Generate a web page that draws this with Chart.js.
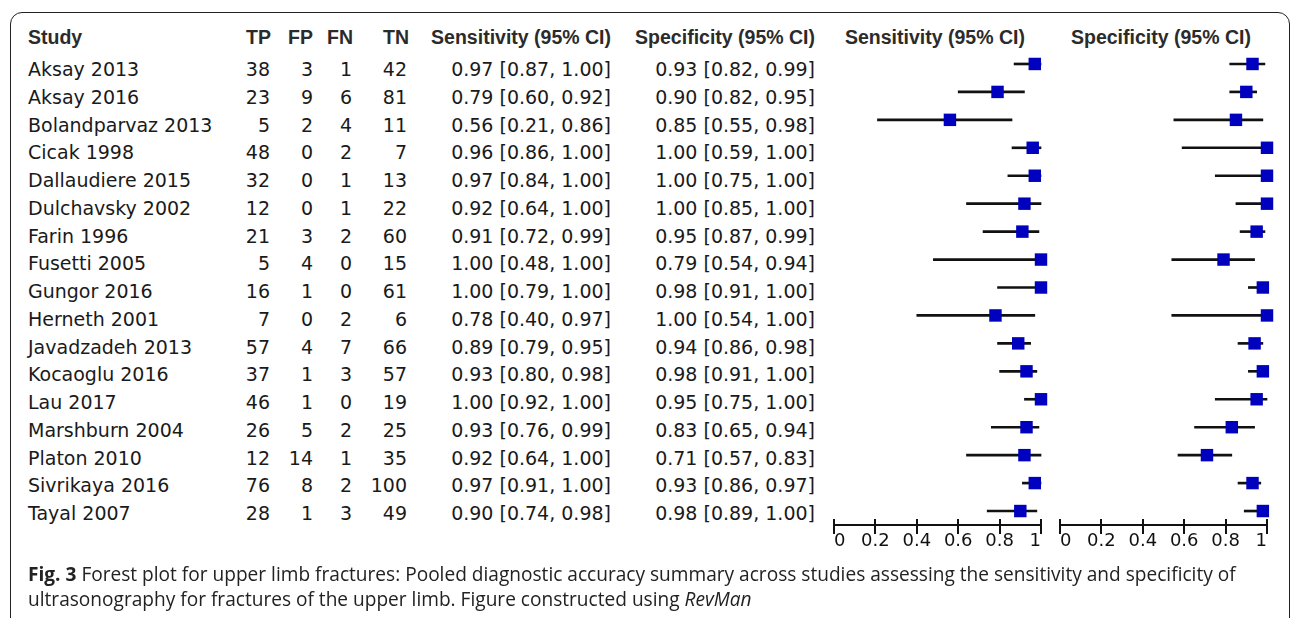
<!DOCTYPE html>
<html lang="en">
<head>
    <meta charset="UTF-8">
    <title>Forest plot - upper limb fractures</title>
    <script src="https://cdn.jsdelivr.net/npm/chart.js"></script>
    <style>
        body { margin: 0; background: #fff; width: 1292px; height: 618px; overflow: hidden; position: relative; }
        .frame { position: absolute; left: 10px; top: 12px; width: 1278px; height: 700px; border: 1.5px solid #222; border-radius: 12px; }
        .hdr { position: absolute; line-height: 26px; font: bold 19.5px "Liberation Sans", Arial, sans-serif; color: #2b2b2b; white-space: nowrap; }
        .cell { position: absolute; font: 19px "DejaVu Sans", sans-serif; color: #1a1a1a; white-space: nowrap; }
        .caption { position: absolute; left: 28px; top: 562px; font: 19.1px "Open Sans", sans-serif; line-height: 25px; color: #222; white-space: nowrap; }
        canvas { position: absolute; }
        #sensChart { left: 820px; top: 41px; }
        #specChart { left: 1046px; top: 41px; }
    </style>
</head>
<body>
    <div class="frame"></div>
    <div id="table"></div>
    <canvas id="sensChart" width="240" height="530"></canvas>
    <canvas id="specChart" width="240" height="530"></canvas>
    <div class="caption"><b>Fig. 3</b> Forest plot for upper limb fractures: Pooled diagnostic accuracy summary across studies assessing the sensitivity and specificity of<br>ultrasonography for fractures of the upper limb. Figure constructed using <i>RevMan</i></div>

    <script>
        // study data
        const studies = ['Aksay 2013', 'Aksay 2016', 'Bolandparvaz 2013', 'Cicak 1998', 'Dallaudiere 2015',
            'Dulchavsky 2002', 'Farin 1996', 'Fusetti 2005', 'Gungor 2016', 'Herneth 2001', 'Javadzadeh 2013',
            'Kocaoglu 2016', 'Lau 2017', 'Marshburn 2004', 'Platon 2010', 'Sivrikaya 2016', 'Tayal 2007'];
        const tp = [38, 23, 5, 48, 32, 12, 21, 5, 16, 7, 57, 37, 46, 26, 12, 76, 28];
        const fp = [3, 9, 2, 0, 0, 0, 3, 4, 1, 0, 4, 1, 1, 5, 14, 8, 1];
        const fn = [1, 6, 4, 2, 1, 1, 2, 0, 0, 2, 7, 3, 0, 2, 1, 2, 3];
        const tn = [42, 81, 11, 7, 13, 22, 60, 15, 61, 6, 66, 57, 19, 25, 35, 100, 49];
        const sens   = [0.97, 0.79, 0.56, 0.96, 0.97, 0.92, 0.91, 1.00, 1.00, 0.78, 0.89, 0.93, 1.00, 0.93, 0.92, 0.97, 0.90];
        const sensLo = [0.87, 0.60, 0.21, 0.86, 0.84, 0.64, 0.72, 0.48, 0.79, 0.40, 0.79, 0.80, 0.92, 0.76, 0.64, 0.91, 0.74];
        const sensHi = [1.00, 0.92, 0.86, 1.00, 1.00, 1.00, 0.99, 1.00, 1.00, 0.97, 0.95, 0.98, 1.00, 0.99, 1.00, 1.00, 0.98];
        const spec   = [0.93, 0.90, 0.85, 1.00, 1.00, 1.00, 0.95, 0.79, 0.98, 1.00, 0.94, 0.98, 0.95, 0.83, 0.71, 0.93, 0.98];
        const specLo = [0.82, 0.82, 0.55, 0.59, 0.75, 0.85, 0.87, 0.54, 0.91, 0.54, 0.86, 0.91, 0.75, 0.65, 0.57, 0.86, 0.89];
        const specHi = [0.99, 0.95, 0.98, 1.00, 1.00, 1.00, 0.99, 0.94, 1.00, 1.00, 0.98, 1.00, 1.00, 0.94, 0.83, 0.97, 1.00];
        const tickLabels = ['0', '0.2', '0.4', '0.6', '0.8', '1'];

        // --- table on the left (plain html) ---
        const textTop = 56, textStep = 27.75, hdrTop = 26;
        const table = document.getElementById('table');
        function addText(cls, text, y, left, right) {
            const d = document.createElement('div');
            d.className = cls;
            d.textContent = text;
            d.style.top = y + 'px';
            if (left != null) d.style.left = left + 'px';
            if (right != null) { d.style.right = (1292 - right) + 'px'; d.style.textAlign = 'right'; }
            table.appendChild(d);
            return d;
        }
        const fmtCI = (e, l, h) => e.toFixed(2) + ' [' + l.toFixed(2) + ', ' + h.toFixed(2) + ']';

        addText('hdr', 'Study', hdrTop, 28);
        addText('hdr', 'TP', hdrTop, null, 271);
        addText('hdr', 'FP', hdrTop, null, 313);
        addText('hdr', 'FN', hdrTop, null, 353);
        addText('hdr', 'TN', hdrTop, null, 409);
        addText('hdr', 'Sensitivity (95% CI)', hdrTop, null, 611);
        addText('hdr', 'Specificity (95% CI)', hdrTop, null, 815);
        addText('hdr', 'Sensitivity (95% CI)', hdrTop, 845);
        addText('hdr', 'Specificity (95% CI)', hdrTop, 1071);

        studies.forEach((s, i) => {
            const y = textTop + i * textStep;
            [addText('cell', s, y, 28),
             addText('cell', tp[i], y, null, 270),
             addText('cell', fp[i], y, null, 313),
             addText('cell', fn[i], y, null, 352),
             addText('cell', tn[i], y, null, 407),
             addText('cell', fmtCI(sens[i], sensLo[i], sensHi[i]), y, null, 611),
             addText('cell', fmtCI(spec[i], specLo[i], specHi[i]), y, null, 815)
            ].forEach(d => { d.style.lineHeight = '26px'; });
        });

        // small tick stubs above the axis line, like RevMan draws them
        const tickStubs = {
            id: 'tickStubs',
            afterDraw(chart) {
                const sc = chart.scales.x, ctx = chart.ctx;
                ctx.save();
                ctx.strokeStyle = '#111';
                ctx.lineWidth = 2;
                sc.ticks.forEach((t, i) => {
                    const x = Math.round(sc.getPixelForTick(i));
                    ctx.beginPath();
                    ctx.moveTo(x, sc.top - 6);
                    ctx.lineTo(x, sc.top);
                    ctx.stroke();
                });
                ctx.restore();
            }
        };

        function makeForest(id, est, lo, hi) {
            const ctx = document.getElementById(id).getContext('2d');
            return new Chart(ctx, {
                type: 'bar',
                data: {
                    labels: studies,
                    datasets: [{
                        type: 'scatter',
                        data: est.map((v, i) => ({ x: v, y: studies[i] })),
                        pointStyle: 'rect',
                        pointRadius: 8.8,
                        pointBackgroundColor: '#0000bf',
                        pointBorderWidth: 0,
                        clip: false,
                        order: 0
                    }, {
                        data: lo.map((v, i) => [v, hi[i]]),
                        backgroundColor: '#111',
                        borderWidth: 0,
                        barThickness: 2,
                        clip: false,
                        order: 1
                    }]
                },
                options: {
                    indexAxis: 'y',
                    responsive: false,
                    animation: false,
                    layout: { autoPadding: false, padding: { left: 14, right: 19, top: 9, bottom: 10 } },
                    plugins: { legend: { display: false }, tooltip: { enabled: false } },
                    scales: {
                        y: { type: 'category', display: false, offset: true },
                        x: {
                            type: 'linear', min: 0, max: 1,
                            afterFit: s => { s.height = 36; },
                            border: { color: '#111', width: 2 },
                            grid: { drawOnChartArea: false, tickLength: 9, color: '#111', lineWidth: 2 },
                            ticks: {
                                stepSize: 0.2, align: 'inner', padding: -3, color: '#111',
                                font: { family: 'DejaVu Sans', size: 18 },
                                callback: (v, i) => tickLabels[i]
                            }
                        }
                    }
                },
                plugins: [tickStubs]
            });
        }

        window.onload = function () {
            makeForest('sensChart', sens, sensLo, sensHi);
            makeForest('specChart', spec, specLo, specHi);
        };
    </script>
</body>
</html>
